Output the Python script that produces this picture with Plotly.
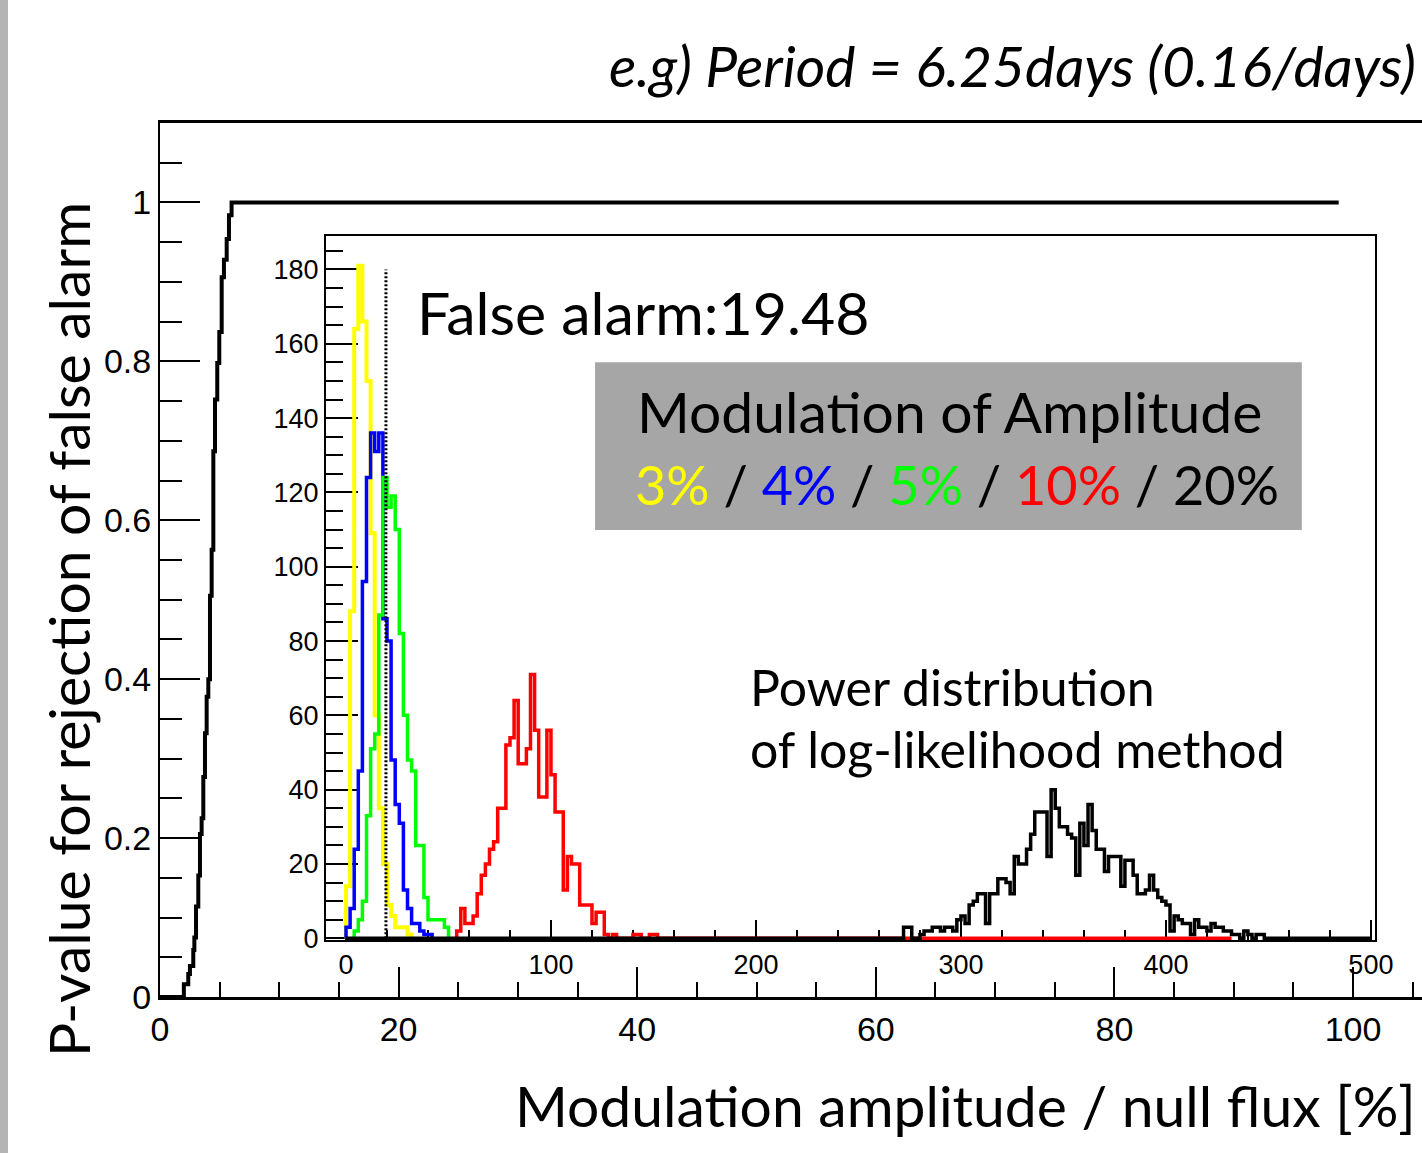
import plotly.graph_objects as go

# ---- data ----
# outer panel: p-value for rejection of false alarm vs modulation amplitude [%]
cdf_x = [0, 1.96, 2.0, 2.23, 2.37, 2.51, 2.79, 2.88, 3.02, 3.21, 3.35, 3.49, 3.63, 3.77,
         3.91, 4.05, 4.19, 4.33, 4.47, 4.61, 4.80, 4.97, 5.17, 5.36, 5.59, 5.78, 6.0, 98.8]
cdf_p = [0, 0, 0.016, 0.016, 0.029, 0.039, 0.059, 0.075, 0.114, 0.153, 0.205, 0.225, 0.277, 0.332,
         0.378, 0.40, 0.505, 0.563, 0.687, 0.752, 0.798, 0.837, 0.906, 0.928, 0.954, 0.984, 1.0, 1.0]

# inset: power distributions (bin width 2), counts from the first bin
bin_width = 2
yellow_start = 0   # 3%
yellow_counts = [14, 88, 164, 181, 166, 150, 109, 60, 35, 20, 9, 6, 3, 3, 3, 1]
blue_start = 0     # 4%
blue_counts = [3, 8, 24, 45, 96, 124, 136, 131, 136, 86, 80, 48, 36, 31, 13, 8, 4, 4, 2, 1, 1]
green_start = 4    # 5%
green_counts = [2, 5, 10, 33, 51, 55, 87, 124, 116, 119, 110, 82, 60, 48, 45, 25, 25, 11,
                5, 5, 5, 5, 3]
red_start = 54     # 10%
red_counts = [2, 8, 4, 4, 6, 12, 17, 20, 24, 26, 35, 35, 52, 54, 64, 47, 47, 51, 71, 56,
              38, 38, 56, 44, 34, 34, 13, 22, 20, 20, 9, 9, 9, 4, 7, 7, 1, 0, 1, 0,
              0, 0, 0, 1, 1, 0, 0, 1, 1]
red_end = 432
black_start = 272  # 20%
black_counts = [3, 3, 0, 0, 1, 2, 2, 3, 3, 2, 3, 3, 2, 5, 6, 4, 9, 10, 12, 12,
                4, 12, 12, 16, 16, 15, 12, 22, 20, 20, 24, 28, 34, 34, 34, 22, 40, 35, 30, 30,
                28, 27, 17, 31, 25, 36, 29, 24, 24, 18, 22, 22, 22, 14, 21, 21, 17, 12, 12, 13,
                17, 13, 11, 10, 9, 2, 6, 5, 4, 4, 1, 5, 3, 3, 2, 4, 3, 3, 2, 2,
                1, 1, 0, 2, 1, 0, 1, 1, 0]
black_range = (0, 500)
false_alarm = 19.48
false_alarm_top = 180

W, H = 1422, 1153
ML, MT, MR, MB = 160, 123, 0, 156
PW, PH = W - ML - MR, H - MT - MB


def px_x(px):
    return (px - ML) / PW


def px_y(py):
    return (H - MB - py) / PH


def step_xy(start, counts, lo=None, hi=None):
    # histogram outline in ROOT style, zero bins drawn on the baseline
    lo = start if lo is None else lo
    end = start + bin_width * len(counts)
    hi = end if hi is None else hi
    xs, ys = [lo], [0]
    if lo < start:
        xs.append(start)
        ys.append(0)
    for i, c in enumerate(counts):
        e0 = start + i * bin_width
        xs += [e0, e0 + bin_width]
        ys += [c, c]
    xs.append(end)
    ys.append(0)
    if hi > end:
        xs.append(hi)
        ys.append(0)
    return xs, ys


fig = go.Figure()

fig.add_trace(go.Scatter(x=cdf_x, y=cdf_p, mode="lines", line=dict(color="black", width=4, shape="hv"),
                         xaxis="x", yaxis="y", showlegend=False))

hists = [
    (yellow_start, yellow_counts, "#ffff00", None, None, 4),
    (blue_start, blue_counts, "#0000ff", None, None, 3.5),
    (green_start, green_counts, "#00ff00", None, None, 3.5),
    (red_start, red_counts, "#ff0000", None, red_end, 3.5),
    (black_start, black_counts, "black", black_range[0], black_range[1], 3.5),
]
for start, counts, col, lo, hi, lw in hists:
    hx, hy = step_xy(start, counts, lo, hi)
    fig.add_trace(go.Scatter(x=hx, y=hy, mode="lines", line=dict(color=col, width=lw),
                             xaxis="x2", yaxis="y2", showlegend=False))

fig.add_trace(go.Scatter(x=[false_alarm, false_alarm], y=[0, false_alarm_top], mode="lines",
                         line=dict(color="black", width=3, dash="2px,2px"),
                         xaxis="x2", yaxis="y2", showlegend=False))

tick_font = dict(family="Liberation Sans, Arial, sans-serif", size=34, color="black")
inset_font = dict(family="Liberation Sans, Arial, sans-serif", size=27, color="black")
text_font = "Lato, Open Sans, sans-serif"

fig.update_layout(
    width=W, height=H, autosize=False,
    margin=dict(l=ML, r=MR, t=MT, b=MB, autoexpand=False),
    paper_bgcolor="white", plot_bgcolor="white",
    xaxis=dict(domain=[0, 1], range=[0, PW / 11.93], showgrid=False, zeroline=False,
               showline=True, linecolor="black", linewidth=3, mirror=True, automargin=False,
               ticks="inside", ticklen=30, tickwidth=2, tickcolor="black", dtick=20, tick0=0,
               minor=dict(ticks="inside", ticklen=15, tickwidth=2, tickcolor="black", dtick=5),
               tickfont=tick_font),
    yaxis=dict(domain=[0, 1], range=[0, 1.1], showgrid=False, zeroline=False,
               showline=True, linecolor="black", linewidth=2, automargin=False,
               ticks="inside", ticklen=40, tickwidth=2, tickcolor="black", dtick=0.2, tick0=0,
               minor=dict(ticks="inside", ticklen=22, tickwidth=2, tickcolor="black", dtick=0.05),
               tickfont=tick_font),
    xaxis2=dict(domain=[px_x(326), px_x(1375)], anchor="y2", range=[-9.76, 502],
                showgrid=False, zeroline=False, showline=True, linecolor="black", linewidth=2,
                mirror=True, layer="below traces", automargin=False,
                ticks="inside", ticklen=20, tickwidth=2, tickcolor="black", dtick=100, tick0=0,
                minor=dict(ticks="inside", ticklen=10, tickwidth=2, tickcolor="black", dtick=20),
                tickfont=inset_font),
    yaxis2=dict(domain=[px_y(940), px_y(236)], anchor="x2", range=[-0.45, 189],
                showgrid=False, zeroline=False, showline=True, linecolor="black", linewidth=2,
                mirror=True, layer="below traces", automargin=False,
                ticks="inside", ticklen=32, tickwidth=2, tickcolor="black", dtick=20, tick0=0,
                minor=dict(ticks="inside", ticklen=17, tickwidth=2, tickcolor="black", dtick=5),
                tickfont=inset_font),
)

# legend box inside the inset
fig.add_shape(type="rect", xref="x2", yref="y2", x0=121.5, x1=466.3, y0=109.9, y1=155.0,
              fillcolor="#a6a6a6", line=dict(width=0), layer="below")
# gray shadow at the left edge of the slide
fig.add_shape(type="rect", xref="paper", yref="paper", x0=px_x(0), x1=px_x(8),
              y0=px_y(H), y1=px_y(0), fillcolor="#b4b4b4", line=dict(width=0))

ann = [
    dict(text="<i>e.g) Period = 6.25days (0.16/days)</i>", xref="paper", yref="paper",
         x=px_x(1418), y=px_y(65), xanchor="right", yanchor="middle",
         font=dict(family=text_font, size=57, color="black")),
    dict(text="P-value for rejection of false alarm", xref="paper", yref="paper",
         x=px_x(68), y=px_y(630), textangle=-90, xanchor="center", yanchor="middle",
         font=dict(family=text_font, size=57, color="black")),
    dict(text="Modulation amplitude / null flux [%]", xref="paper", yref="paper",
         x=px_x(1418), y=px_y(1105), xanchor="right", yanchor="middle",
         font=dict(family=text_font, size=57, color="black")),
    dict(text="False alarm:19.48", xref="x2", yref="y2", x=33.7, y=168.5,
         xanchor="left", yanchor="middle", font=dict(family=text_font, size=59, color="black")),
    dict(text="Modulation of Amplitude", xref="x2", yref="y2", x=294.4, y=141.9,
         xanchor="center", yanchor="middle", font=dict(family=text_font, size=57, color="black")),
    dict(text="<span style='color:#ffff00'>3%</span> / <span style='color:#0000ff'>4%</span> / "
              "<span style='color:#00ff00'>5%</span> / <span style='color:#ff0000'>10%</span> / 20%",
         xref="x2", yref="y2", x=298, y=122, xanchor="center", yanchor="middle",
         font=dict(family=text_font, size=54, color="black")),
    dict(text="Power distribution", xref="x2", yref="y2", x=196.1, y=67.7,
         xanchor="left", yanchor="middle", font=dict(family=text_font, size=50, color="black")),
    dict(text="of log-likelihood method", xref="x2", yref="y2", x=196.1, y=51,
         xanchor="left", yanchor="middle", font=dict(family=text_font, size=50, color="black")),
]
for a in ann:
    fig.add_annotation(showarrow=False, **a)

fig.write_html("out.html", config={"displayModeBar": False, "responsive": False},
               post_script="document.body.style.margin='0';document.body.style.overflow='hidden';")
